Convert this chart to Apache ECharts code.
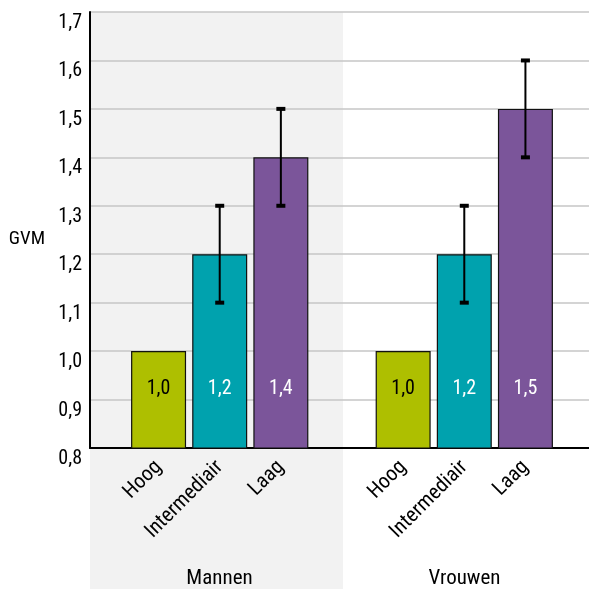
<!DOCTYPE html>
<html>
<head>
<meta charset="utf-8">
<script src="https://cdn.jsdelivr.net/npm/echarts@6/dist/echarts.min.js"></script>
<style>
html,body{margin:0;padding:0;background:#fff;}
#chart{width:589px;height:589px;}
</style>
</head>
<body>
<div id="chart"></div>
<script>
const categories = ['Hoog', 'Intermediair', 'Laag', '', 'Hoog', 'Intermediair', 'Laag'];
const groups = ['Mannen', 'Vrouwen'];
const values = [1.0, 1.2, 1.4, null, 1.0, 1.2, 1.5];
const errLow = [null, 1.1, 1.3, null, null, 1.1, 1.4];
const errHigh = [null, 1.3, 1.5, null, null, 1.3, 1.6];
const yTicks = { min: 0.8, max: 1.7, interval: 0.1 };

const barColors = { 'Hoog': '#aebf00', 'Intermediair': '#00a2ae', 'Laag': '#7b559a' };
const labelColors = { 'Hoog': '#000', 'Intermediair': '#fff', 'Laag': '#fff' };
const FONT = "'Liberation Sans Narrow','Roboto Condensed','DejaVu Sans Condensed','Open Sans',sans-serif";
const fmt = v => v.toFixed(1).replace('.', ',');

const chart = echarts.init(document.getElementById('chart'), null, { renderer: 'canvas' });

const barData = values.map((v, i) => v == null ? null : {
  value: v,
  itemStyle: { color: barColors[categories[i]] },
  label: { color: labelColors[categories[i]] }
});
const errData = [];
values.forEach((v, i) => { if (errLow[i] != null) errData.push([i, errLow[i], errHigh[i]]); });

const option = {
  animation: false,
  backgroundColor: '#fff',
  textStyle: { fontFamily: FONT },
  graphic: [{
    type: 'rect', z: -10, silent: true,
    shape: { x: 90, y: 12, width: 253, height: 577 },
    style: { fill: '#f2f2f2' }
  }],
  grid: [
    { left: 90, right: 0, top: 12, bottom: 141 },
    { left: 128, right: 33, top: 12, bottom: 141 },
    { left: 97, right: 2, top: 12, bottom: 141 }
  ],
  xAxis: [
    { gridIndex: 0, type: 'category', data: ['', ''], axisTick: { show: false }, axisLabel: { show: false },
      axisLine: { lineStyle: { color: '#000', width: 2 } } },
    { gridIndex: 1, type: 'category', data: categories, axisTick: { show: false }, axisLine: { show: false },
      axisLabel: { rotate: 45, margin: 16, fontSize: 21, color: '#000', fontFamily: FONT, interval: 0 } },
    { gridIndex: 2, type: 'category', data: groups, axisTick: { show: false }, axisLine: { show: false },
      axisLabel: { margin: 120, fontSize: 21, color: '#000', fontFamily: FONT, verticalAlign: 'top' } }
  ],
  yAxis: [
    { gridIndex: 0, type: 'value', min: yTicks.min, max: yTicks.max, interval: yTicks.interval,
      name: 'GVM', nameLocation: 'middle', nameRotate: 0, nameGap: 45,
      nameTextStyle: { fontSize: 19, color: '#000', fontFamily: FONT, align: 'right', verticalAlign: 'top', padding: [0, 0, 0, 0] },
      axisLine: { show: true, lineStyle: { color: '#000', width: 2 } },
      axisTick: { show: false },
      axisLabel: { formatter: fmt, fontSize: 20, color: '#000', margin: 8, fontFamily: FONT, verticalAlign: 'top', padding: [1, 0, 0, 0] },
      splitLine: { show: true, lineStyle: { color: '#c6c6c6', width: 1.5 } } },
    { gridIndex: 1, type: 'value', min: yTicks.min, max: yTicks.max, interval: yTicks.interval, show: false, splitLine: { show: false } },
    { gridIndex: 2, type: 'value', min: yTicks.min, max: yTicks.max, interval: yTicks.interval, show: false, splitLine: { show: false } }
  ],
  series: [
    {
      type: 'bar', xAxisIndex: 1, yAxisIndex: 1, barWidth: 55,
      data: barData,
      itemStyle: { borderColor: '#111', borderWidth: 1.2 },
      label: { show: true, position: 'insideBottom', distance: 50, fontSize: 20, fontFamily: FONT,
        formatter: p => fmt(p.value) }
    },
    {
      type: 'custom', xAxisIndex: 1, yAxisIndex: 1, z: 5,
      data: errData,
      renderItem: function (params, api) {
        const x = api.value(0);
        const lo = api.coord([x, api.value(1)]);
        const hi = api.coord([x, api.value(2)]);
        const cw = 9, ch = 4;
        return {
          type: 'group',
          children: [
            { type: 'line', shape: { x1: hi[0], y1: hi[1], x2: lo[0], y2: lo[1] }, style: { stroke: '#000', lineWidth: 2 } },
            { type: 'rect', shape: { x: hi[0] - cw / 2, y: hi[1] - ch / 2, width: cw, height: ch }, style: { fill: '#000' } },
            { type: 'rect', shape: { x: lo[0] - cw / 2, y: lo[1] - ch / 2, width: cw, height: ch }, style: { fill: '#000' } }
          ]
        };
      }
    }
  ]
};
chart.setOption(option);
</script>
</body>
</html>
